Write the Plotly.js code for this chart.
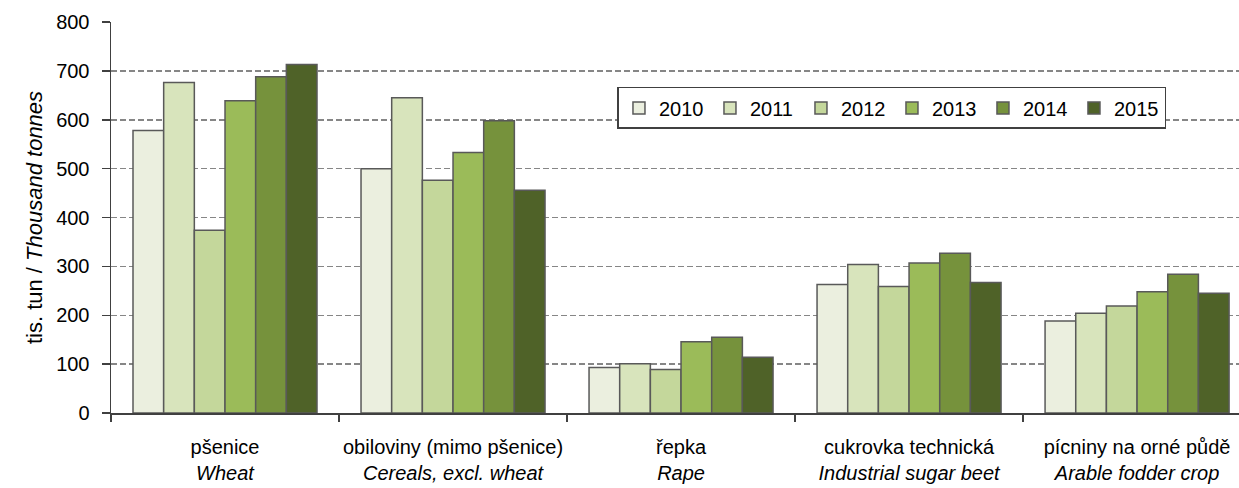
<!DOCTYPE html>
<html>
<head>
<meta charset="utf-8">
<script src="https://cdn.plot.ly/plotly-3.0.1.min.js"></script>
<style>html,body{margin:0;padding:0;background:#fff;}#chart{width:1239px;height:488px;}</style>
</head>
<body>
<div id="chart"></div>
<script>
const categories = [
  "pšenice<br><i>Wheat</i>",
  "obiloviny (mimo pšenice)<br><i>Cereals, excl. wheat</i>",
  "řepka<br><i>Rape</i>",
  "cukrovka technická<br><i>Industrial sugar beet</i>",
  "pícniny na orné půdě<br><i>Arable fodder crop</i>"
];
const years = ["2010", "2011", "2012", "2013", "2014", "2015"];
const v2010 = [578, 500, 93, 263, 188];
const v2011 = [676, 645, 101, 304, 204];
const v2012 = [374, 476, 89, 259, 219];
const v2013 = [639, 533, 146, 307, 248];
const v2014 = [688, 598, 155, 327, 284];
const v2015 = [713, 456, 114, 267, 245];
const seriesValues = [v2010, v2011, v2012, v2013, v2014, v2015];
const colors = ["#EBEFDF", "#D8E4BC", "#C4D79B", "#9BBB59", "#76923C", "#4F6228"];

const font = "'Liberation Sans', Arial, sans-serif";
const traces = years.map((y, i) => ({
  type: "bar",
  name: y,
  x: categories,
  y: seriesValues[i],
  marker: {color: colors[i], line: {color: "#595959", width: 1.5}},
  hoverinfo: "skip"
}));

const layout = {
  width: 1239, height: 488,
  margin: {l: 111, r: 0, t: 22, b: 75, pad: 0},
  paper_bgcolor: "#ffffff", plot_bgcolor: "#ffffff",
  font: {family: font, size: 20, color: "#000000"},
  barmode: "group", bargap: 0.193, bargroupgap: 0,
  showlegend: true,
  legend: {
    orientation: "h", x: 0.449, y: 0.834, xanchor: "left", yanchor: "top",
    bgcolor: "#ffffff", bordercolor: "#404040", borderwidth: 1.5,
    font: {family: font, size: 20, color: "#000000"},
    itemwidth: 30, traceorder: "normal", entrywidth: 46, entrywidthmode: "pixels"
  },
  xaxis: {
    type: "category", range: [-0.5, 4.447], fixedrange: true,
    tickson: "boundaries", ticks: "outside", ticklen: 7, tickcolor: "#404040", tickwidth: 1.5,
    showline: true, linecolor: "#404040", linewidth: 1.5,
    showgrid: false, zeroline: false, tickangle: 0, automargin: false,
    tickfont: {family: font, size: 20, color: "#000000"},
    ticklabelstandoff: 15
  },
  yaxis: {
    range: [0, 800], dtick: 100, tick0: 0,
    ticks: "outside", ticklen: 8, tickcolor: "#404040", tickwidth: 1.5,
    showline: true, linecolor: "#404040", linewidth: 1.5,
    showgrid: true, gridcolor: "#868686", gridwidth: 1.5, griddash: "6px,3px",
    zeroline: false, automargin: false,
    ticklabelstandoff: 8,
    tickfont: {family: font, size: 20, color: "#000000"},
    title: {text: "tis. tun / <i>Thousand tonnes</i>", font: {family: font, size: 22, color: "#000000"}, standoff: 7}
  }
};

Plotly.newPlot("chart", traces, layout, {staticPlot: true, displayModeBar: false});
</script>
</body>
</html>
